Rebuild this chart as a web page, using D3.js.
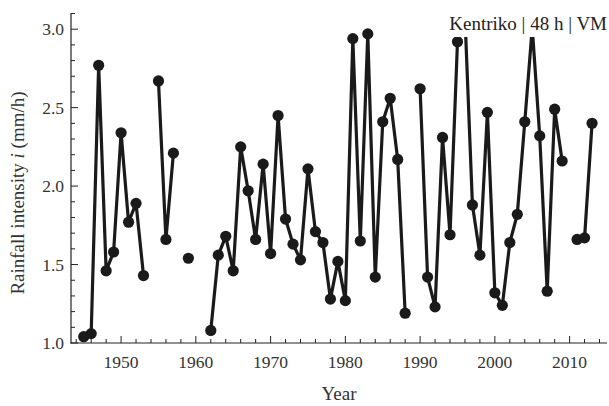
<!DOCTYPE html>
<html><head><meta charset="utf-8">
<script src="https://cdn.jsdelivr.net/npm/d3@7"></script>
<style>body{margin:0;background:#fff}svg{display:block}text{font-family:"Liberation Serif","DejaVu Serif",serif}</style>
</head><body><svg id="c" width="609" height="406"></svg>
<script>
const years = d3.range(1945, 2014);
const values = [
  1.04, 1.06, 2.77, 1.46, 1.58, 2.34, 1.77, 1.89, 1.43, null, // 1945-1954
  2.67, 1.66, 2.21, null, 1.54, null, null, 1.08, 1.56, 1.68, // 1955-1964
  1.46, 2.25, 1.97, 1.66, 2.14, 1.57, 2.45, 1.79, 1.63, 1.53, // 1965-1974
  2.11, 1.71, 1.64, 1.28, 1.52, 1.27, 2.94, 1.65, 2.97, 1.42, // 1975-1984
  2.41, 2.56, 2.17, 1.19, null, 2.62, 1.42, 1.23, 2.31, 1.69, // 1985-1994
  2.92, 3.08, 1.88, 1.56, 2.47, 1.32, 1.24, 1.64, 1.82, 2.41, // 1995-2004
  3.01, 2.32, 1.33, 2.49, 2.16, null, 1.66, 1.67, 2.40        // 2005-2013
];
const yTickLabels = ["1.0","1.5","2.0","2.5","3.0"];
const xTickLabels = ["1950","1960","1970","1980","1990","2000","2010"];
const title = "Kentriko | 48 h | VM";

const svg = d3.select("#c");
const x = d3.scaleLinear().domain([1943.3, 2015]).range([71, 607]);
const y = d3.scaleLinear().domain([1, 3.1]).range([343, 13.5]);
const data = years.map((yr, i) => ({yr, v: values[i]}));
const ink = "#1a1a1a";

// plot
const g = svg.append("g");
g.append("path").datum(data)
  .attr("fill","none").attr("stroke",ink).attr("stroke-width",3.2).attr("stroke-linejoin","round")
  .attr("d", d3.line().defined(d => d.v != null).x(d => x(d.yr)).y(d => y(d.v)));
g.selectAll("circle").data(data.filter(d => d.v != null)).join("circle")
  .attr("cx", d => x(d.yr)).attr("cy", d => y(d.v)).attr("r", 5.6).attr("fill", ink);

// label with white background
const lblG = svg.append("g");
const lbl = lblG.append("text").attr("x", 607).attr("y", 30).attr("text-anchor","end")
  .attr("font-size", 19).attr("fill","#222").text(title);
const bb = lbl.node().getBBox();
lblG.insert("rect", "text").attr("x", bb.x - 2).attr("y", 0).attr("width", 609 - bb.x + 2).attr("height", 37).attr("fill","#fff");

// axes
const axisCol = "#222";
svg.append("line").attr("x1",71).attr("x2",71).attr("y1",13).attr("y2",343.5).attr("stroke",axisCol).attr("stroke-width",1.2);
svg.append("line").attr("x1",70.5).attr("x2",607).attr("y1",343).attr("y2",343).attr("stroke",axisCol).attr("stroke-width",1.2);

const yMinor = d3.range(10, 32).map(d => d/10);
svg.selectAll(".yt").data(yMinor).join("line")
  .attr("x1",71).attr("x2", d => Math.abs(d*2 - Math.round(d*2)) < 1e-6 ? 78 : 75)
  .attr("y1", d => y(d)).attr("y2", d => y(d)).attr("stroke",axisCol).attr("stroke-width",1);
svg.selectAll(".yl").data(yTickLabels).join("text")
  .attr("x", 64).attr("y", d => y(+d) + 6).attr("text-anchor","end")
  .attr("font-size", 17.5).attr("fill","#333").text(d => d);

const xMinor = d3.range(1944, 2016, 2);
svg.selectAll(".xt").data(xMinor).join("line")
  .attr("x1", d => x(d)).attr("x2", d => x(d))
  .attr("y1",343).attr("y2", d => d % 10 === 0 ? 336 : 339).attr("stroke",axisCol).attr("stroke-width",1);
svg.selectAll(".xl").data(xTickLabels).join("text")
  .attr("x", d => x(+d)).attr("y", 368).attr("text-anchor","middle")
  .attr("font-size", 17.5).attr("fill","#333").text(d => d);

svg.append("text").attr("x", 339).attr("y", 400).attr("text-anchor","middle")
  .attr("font-size", 19).attr("fill","#333").text("Year");
const yt = svg.append("text").attr("transform","translate(24,193) rotate(-90)").attr("text-anchor","middle")
  .attr("font-size", 19).attr("fill","#333");
yt.append("tspan").text("Rainfall intensity ");
yt.append("tspan").attr("font-style","italic").text("i");
yt.append("tspan").text(" (mm/h)");
</script></body></html>
